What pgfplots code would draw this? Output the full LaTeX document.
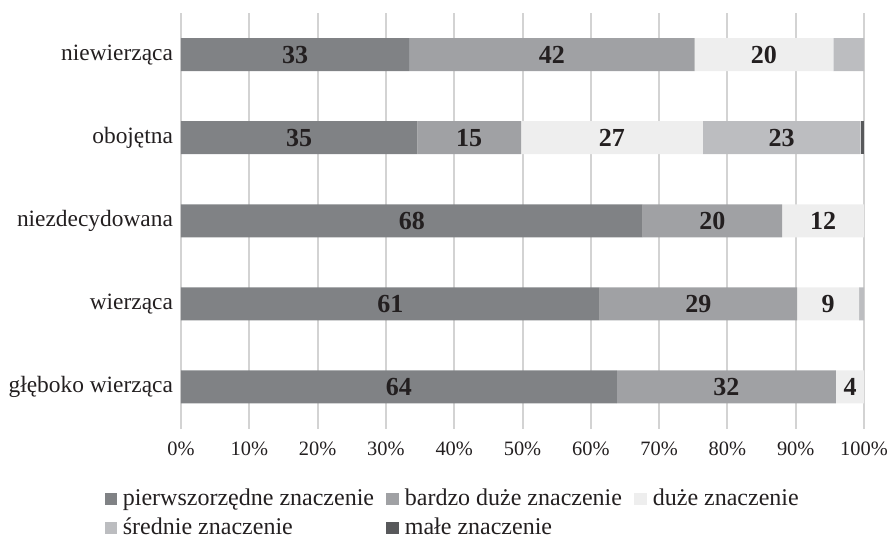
\documentclass[border=0pt]{standalone}
\usepackage{pgfplots}
\pgfplotsset{compat=1.18}
\usepackage{pgfplotstable}
\usepackage{fontspec}
\setmainfont{Liberation Serif}

\definecolor{cPierw}{HTML}{808285}
\definecolor{cBardzo}{HTML}{A0A1A4}
\definecolor{cDuze}{HTML}{EEEEEE}
\definecolor{cSrednie}{HTML}{BCBDC0}
\definecolor{cMale}{HTML}{58595B}
\definecolor{cGrid}{HTML}{D3D3D3}
\definecolor{cText}{HTML}{231F20}

% share of answers (percent) per attitude towards religion
% cat: 0 = głęboko wierząca ... 4 = niewierząca
\pgfplotstableread{
cat  pierw  bardzo  duze  srednie  male
0    63.8   32.1    4.1   0.0      0.0
1    61.3   28.9    9.1   0.7      0.0
2    67.6   20.4    12.0  0.0      0.0
3    34.6   15.2    26.6  23.1     0.5
4    33.4   41.8    20.3  4.5      0.0
}\dane

% print the segment value only when it is wider than #1 percent
\newcommand\seglabel[1]{%
  \ifdim\segval pt>#1pt\relax
    \pgfmathprintnumber[fixed,precision=0]{\segval}%
  \fi}

% one stacked segment: column #1, label threshold #2
\pgfplotsset{
  seg/.style 2 args={
    visualization depends on={\thisrow{#1} \as \segval},
    nodes near coords={\seglabel{#2}},
    nodes near coords style={font=\fontsize{13}{15}\selectfont\bfseries,
      text=cText, anchor=center},
  },
}

\begin{document}
\begin{tikzpicture}
\useasboundingbox (0,0) rectangle (445pt,269pt);
\begin{axis}[
  at={(90.5pt,54.75pt)}, anchor=south west,
  scale only axis, width=341.5pt, height=207.75pt,
  xbar stacked, bar width=16.5pt,
  xmin=0, xmax=100, ymin=-0.5, ymax=4.5,
  xtick={0,10,...,100},
  xticklabel={\pgfmathprintnumber{\tick}\%},
  /pgf/number format/assume math mode=true,
  ytick={0,1,2,3,4},
  yticklabels={głęboko wierząca, wierząca, niezdecydowana, obojętna, niewierząca},
  xmajorgrids, grid style={cGrid, line width=1pt},
  axis line style={draw=none},
  major tick length=0pt,
  xticklabel style={font=\fontsize{10.2}{12}\selectfont, text=cText, yshift=-3pt},
  yticklabel style={font=\fontsize{11.7}{14}\selectfont, text=cText, xshift=-0.5pt},
  legend columns=3,
  legend cell align=left,
  legend style={draw=none, fill=none, inner sep=0pt, outer sep=0pt,
    at={(0.398,-0.205)}, anchor=center,
    font=\fontsize{12}{14}\selectfont,
    nodes={inner sep=1.2pt, text height=8.5pt, text depth=2.6pt, text=cText},
    row sep=1pt,
    /tikz/every odd column/.append style={column sep=1.6pt},
    /tikz/every even column/.append style={column sep=5pt}},
  legend image code/.code={\fill[#1] (0pt,-3pt) rectangle (6.4pt,3pt);},
  every axis plot/.append style={draw=none},
]
\addplot[fill=cPierw, seg={pierw}{1}] table[x=pierw, y=cat] {\dane};
\addplot[fill=cBardzo, seg={bardzo}{1}] table[x=bardzo, y=cat] {\dane};
\addplot[fill=cDuze, seg={duze}{1}] table[x=duze, y=cat] {\dane};
\addplot[fill=cSrednie, seg={srednie}{10}] table[x=srednie, y=cat] {\dane};
\addplot[fill=cMale] table[x=male, y=cat] {\dane};
\legend{pierwszorzędne znaczenie, bardzo duże znaczenie, duże znaczenie,
  średnie znaczenie, małe znaczenie}
\end{axis}
\end{tikzpicture}
\end{document}
